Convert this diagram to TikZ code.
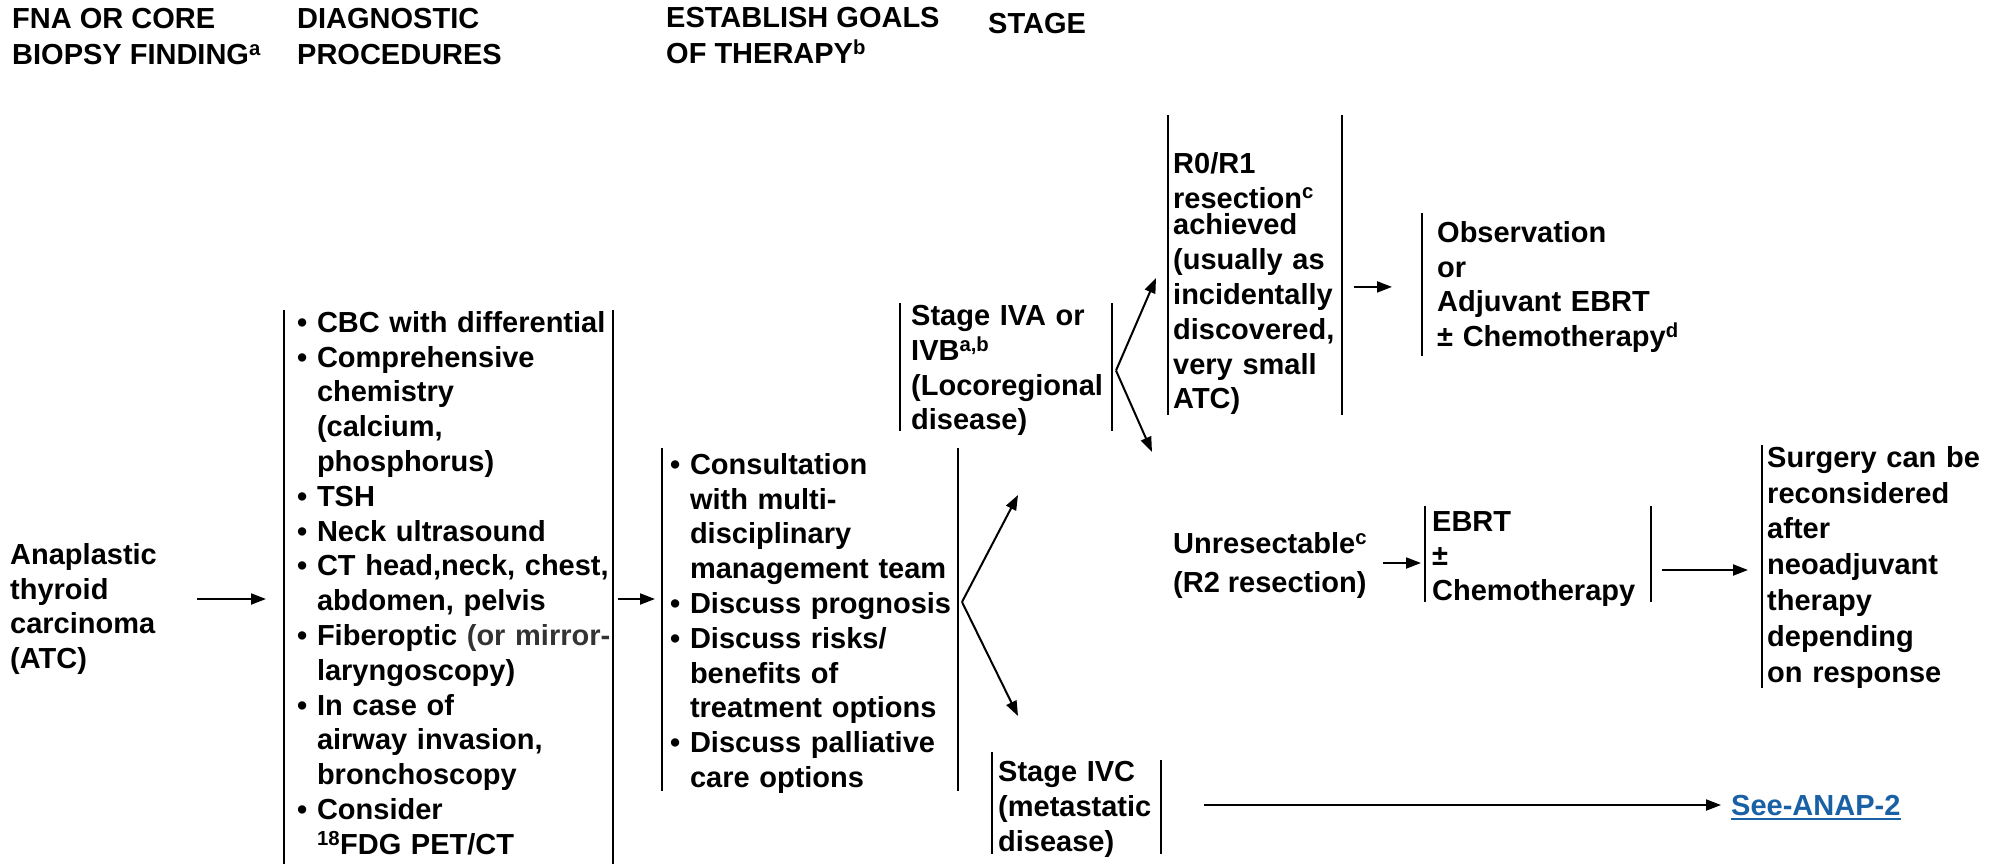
\documentclass[tikz,border=0pt]{standalone}
\usepackage{fontspec}
\setmainfont{Liberation Sans}
\usetikzlibrary{arrows.meta}
\definecolor{linkblue}{RGB}{25,96,165}
\newcommand{\bul}{\textbullet\ }
\newcommand{\bulsp}{\hphantom{\textbullet\ }}
\tikzset{
  txt/.style={font=\bfseries\fontsize{29}{34.8}\selectfont, inner sep=0pt, align=left, anchor=north west},
  hdr/.style={txt, font=\bfseries\fontsize{29}{36}\selectfont},
  bar/.style={line width=2pt},
  arr/.style={line width=2pt, -{Triangle[length=15pt,width=11pt]}}
}
\begin{document}
\begin{tikzpicture}[x=1pt, y=-1pt]
  \useasboundingbox (0,0) rectangle (1997,864);
  % column heads
  \node[hdr] (hfna) at (12,8) {FNA OR CORE\\BIOPSY FINDING\textsuperscript{a}};
  \node[hdr] (hdiag) at (297,8) {DIAGNOSTIC\\PROCEDURES};
  \node[hdr] (hgoal) at (666,7) {ESTABLISH GOALS\\OF THERAPY\textsuperscript{b}};
  \node[hdr] (hstage) at (988,13) {STAGE};

  % boxes
  \node[txt] (atc) at (10,543) {Anaplastic\\thyroid\\carcinoma\\(ATC)};
  \node[txt, inner xsep=13pt, text width=320pt] (diag) at (284,311)
    {\bul CBC with differential\\
     \bul Comprehensive\\
     \bulsp chemistry\\
     \bulsp (calcium,\\
     \bulsp phosphorus)\\
     \bul TSH\\
     \bul Neck ultrasound\\
     \bul CT head,neck, chest,\\
     \bulsp abdomen, pelvis\\
     \bul Fiberoptic {\color{black!80}(or mirror-}\\
     \bulsp laryngoscopy)\\
     \bul In case of\\
     \bulsp airway invasion,\\
     \bulsp bronchoscopy\\
     \bul Consider\\
     \bulsp\textsuperscript{18}FDG PET/CT};
  \node[txt, inner xsep=8pt, text width=290pt] (goals) at (662,453)
    {\bul Consultation\\
     \bulsp with multi-\\
     \bulsp disciplinary\\
     \bulsp management team\\
     \bul Discuss prognosis\\
     \bul Discuss risks/\\
     \bulsp benefits of\\
     \bulsp treatment options\\
     \bul Discuss palliative\\
     \bulsp care options};
  \node[txt, inner xsep=11pt, text width=205pt] (iva) at (900,305)
    {Stage IVA or\\IVB\textsuperscript{a,b}\\(Locoregional\\disease)};
  \node[txt, inner xsep=6pt, text width=170pt] (ivc) at (992,761)
    {Stage IVC\\(metastatic\\disease)};
  \node[txt, inner xsep=5pt, text width=175pt] (r0) at (1168,152)
    {R0/R1\\resection\textsuperscript{c}\\[-8pt]achieved\\(usually as\\incidentally\\discovered,\\very small\\ATC)};
  \node[txt, inner xsep=15pt, text width=260pt] (obs) at (1422,221)
    {Observation\\or\\Adjuvant EBRT\\± Chemotherapy\textsuperscript{d}};
  \node[txt] (unres) at (1173,532) {Unresectable\textsuperscript{c}\\[4pt](R2 resection)};
  \node[txt, inner xsep=7pt, text width=220pt] (ebrt) at (1425,511) {EBRT\\±\\Chemotherapy};
  \node[txt, font=\bfseries\fontsize{29}{35.8}\selectfont, inner xsep=5pt, text width=220pt] (surg) at (1762,446)
    {Surgery can be\\reconsidered\\after\\neoadjuvant\\therapy\\depending\\on response};
  \node[txt, anchor=base west, text=linkblue] (see) at (1731,815) {See-ANAP-2};
  \draw[linkblue, line width=2pt] ([yshift=-4pt]see.base west) -- ([yshift=-4pt]see.base east);

  % side bars
  \draw[bar] ([yshift=1pt]diag.north west) -- ([yshift=-12pt]diag.south west);
  \draw[bar] ([xshift=329pt, yshift=1pt]diag.north west) -- ([xshift=329pt, yshift=-12pt]diag.south west);
  \draw[bar] ([yshift=5pt]goals.north west) -- ([yshift=3pt]goals.south west);
  \draw[bar] ([xshift=296pt, yshift=5pt]goals.north west) -- ([xshift=296pt, yshift=3pt]goals.south west);
  \draw[bar] ([yshift=2pt]iva.north west) -- ([yshift=5pt]iva.south west);
  \draw[bar] ([xshift=212pt, yshift=2pt]iva.north west) -- ([xshift=212pt, yshift=5pt]iva.south west);
  \draw[bar] ([yshift=37pt]r0.north west) -- (r0.south west);
  \draw[bar] ([xshift=174pt, yshift=37pt]r0.north west) -- ([xshift=174pt]r0.south west);
  \draw[bar] ([yshift=8pt]obs.north west) -- ([yshift=-3pt]obs.south west);
  \draw[bar] ([yshift=5pt]ebrt.north west) -- ([yshift=5pt]ebrt.south west);
  \draw[bar] ([xshift=226pt, yshift=5pt]ebrt.north west) -- ([xshift=226pt, yshift=5pt]ebrt.south west);
  \draw[bar] ([yshift=1pt]surg.north west) -- (surg.south west);
  \draw[bar] ([yshift=9pt]ivc.north west) -- ([yshift=3pt]ivc.south west);
  \draw[bar] ([xshift=169pt, yshift=1pt]ivc.north west) -- ([xshift=169pt, yshift=3pt]ivc.south west);

  % arrows
  \coordinate (row1) at (0,599);
  \coordinate (row2) at (0,602);
  \coordinate (row3) at (0,563);
  \coordinate (row4) at (0,570);
  \draw[arr, shorten <=40pt, shorten >=18pt] (atc.east |- row1) -- (diag.west |- row1);
  \draw[arr, shorten <=5pt, shorten >=7pt] ([xshift=329pt]diag.west |- row1) -- (goals.west |- row1);
  \path ([xshift=296pt]goals.west |- row2) ++(4,0) coordinate (gfork);
  \coordinate (upiva) at (1018,495);
  \coordinate (dnivc) at (1018,716);
  \draw[arr] (gfork) -- (upiva);
  \draw[arr] (gfork) -- (dnivc);
  \path ([xshift=212pt]iva.west) ++(4,0) coordinate (ifork);
  \coordinate (upr0) at (1156,278);
  \coordinate (dnunres) at (1152,452);
  \draw[arr] (ifork) -- (upr0);
  \draw[arr] (ifork) -- (dnunres);
  \draw[arr, shorten <=12pt, shorten >=30pt] ([xshift=174pt]r0.west |- obs.west) -- (obs.west);
  \draw[arr, shorten <=16pt, shorten >=4pt] (unres.east |- row3) -- (ebrt.west |- row3);
  \draw[arr, shorten <=11pt, shorten >=14pt] ([xshift=226pt]ebrt.west |- row4) -- (surg.west |- row4);
  \draw[arr, shorten <=43pt, shorten >=10pt] ([xshift=169pt]ivc.west |- see.west) -- (see.west);
\end{tikzpicture}
\end{document}
